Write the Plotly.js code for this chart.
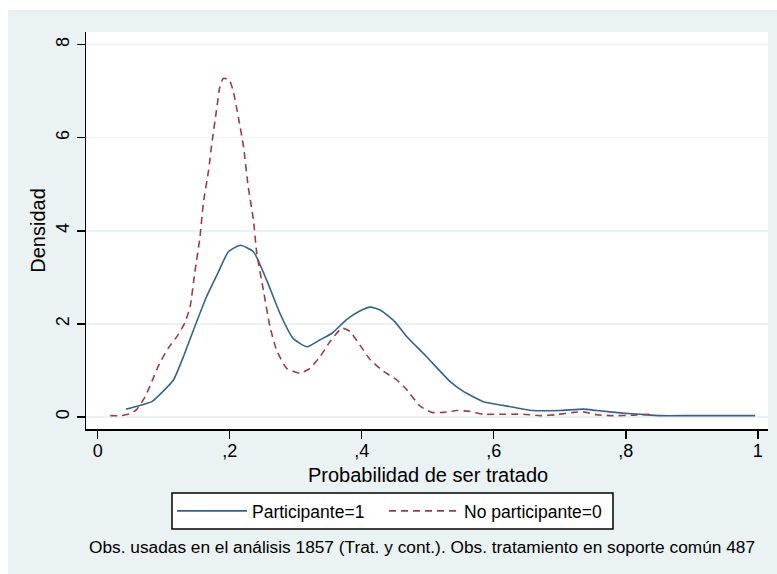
<!DOCTYPE html>
<html>
<head>
<meta charset="utf-8">
<script src="https://cdn.plot.ly/plotly-3.0.1.min.js"></script>
<style>
  html, body { margin: 0; padding: 0; background: #ffffff; width: 777px; height: 574px; overflow: hidden; }
  #chart { position: absolute; left: 8px; top: 10px; width: 769px; height: 564px; }
</style>
</head>
<body>
<div id="chart"></div>
<script>
// Kernel density: Participante=1
const partX = [0.043,0.054,0.082,0.099,0.115,0.130,0.147,0.165,0.183,0.198,0.216,0.236,0.256,0.276,0.296,0.317,0.337,0.355,0.377,0.395,0.413,0.428,0.450,0.468,0.498,0.519,0.534,0.554,0.584,0.610,0.630,0.658,0.700,0.736,0.756,0.796,0.822,0.852,0.900,0.950,0.996];
const partY = [0.17,0.21,0.33,0.55,0.80,1.30,1.94,2.59,3.12,3.55,3.69,3.55,2.94,2.23,1.69,1.51,1.66,1.80,2.09,2.26,2.36,2.30,2.05,1.73,1.30,0.98,0.76,0.55,0.33,0.26,0.21,0.14,0.14,0.17,0.14,0.085,0.06,0.03,0.03,0.03,0.03];

// Kernel density: No participante=0
const noPartX = [0.019,0.036,0.049,0.059,0.072,0.082,0.094,0.107,0.122,0.132,0.140,0.147,0.155,0.160,0.168,0.173,0.180,0.185,0.190,0.199,0.205,0.213,0.221,0.228,0.236,0.241,0.251,0.261,0.271,0.286,0.306,0.322,0.337,0.352,0.370,0.382,0.397,0.413,0.433,0.453,0.468,0.488,0.506,0.524,0.544,0.564,0.584,0.605,0.645,0.670,0.695,0.721,0.736,0.756,0.781,0.812,0.840];
const noPartY = [0.03,0.03,0.07,0.16,0.44,0.76,1.16,1.48,1.77,2.02,2.37,3.09,3.87,4.59,5.30,5.88,6.59,7.09,7.27,7.25,7.02,6.45,5.80,4.95,4.23,3.52,2.73,1.94,1.44,1.05,0.94,1.05,1.30,1.62,1.91,1.84,1.55,1.23,0.98,0.80,0.59,0.24,0.10,0.10,0.14,0.12,0.06,0.06,0.06,0.03,0.05,0.10,0.11,0.05,0.03,0.04,0.06];

const xTickVals = [0, 0.2, 0.4, 0.6, 0.8, 1];
const xTickText = ["0", ",2", ",4", ",6", ",8", "1"];
const yTickVals = [0, 2, 4, 6, 8];
const yTickText = ["0", "2", "4", "6", "8"];

const seriesNames = ["Participante=1", "No participante=0"];
const xTitle = "Probabilidad de ser tratado";
const yTitle = "Densidad";
const noteText = "Obs. usadas en el análisis 1857 (Trat. y cont.). Obs. tratamiento en soporte común 487";

const FONT = '"Liberation Sans", Arial, sans-serif';

const traces = [
  {
    x: partX, y: partY, type: 'scatter', mode: 'lines', name: seriesNames[0],
    legend: 'legend',
    line: { color: '#34638F', width: 1.6, shape: 'spline', smoothing: 0.5 }
  },
  {
    x: noPartX, y: noPartY, type: 'scatter', mode: 'lines', name: seriesNames[1],
    legend: 'legend2',
    line: { color: '#9E3C45', width: 1.6, dash: '7px,5px', shape: 'spline', smoothing: 0.5 }
  }
];

const legendCommon = {
  orientation: 'h',
  xanchor: 'left',
  y: -0.1612, yanchor: 'top',
  bgcolor: 'rgba(0,0,0,0)', borderwidth: 0,
  font: { size: 17.5, family: FONT, color: '#000000' },
  itemwidth: 70,
  valign: 'middle'
};

const layout = {
  width: 769, height: 564,
  paper_bgcolor: '#EAF2F3',
  plot_bgcolor: '#FFFFFF',
  margin: { l: 78, r: 9, t: 22, b: 145 },
  font: { family: FONT, color: '#000000', size: 18 },
  showlegend: true,
  xaxis: {
    range: [-0.0177, 1.0155],
    tickvals: xTickVals, ticktext: xTickText,
    showline: true, linecolor: '#000000', linewidth: 1.5,
    ticks: 'outside', ticklen: 8, tickwidth: 1.5, tickcolor: '#000000',
    ticklabelstandoff: -3,
    showgrid: false, zeroline: false,
    tickfont: { size: 18, family: FONT }
  },
  yaxis: {
    range: [-0.257, 8.27],
    tickvals: yTickVals, ticktext: yTickText,
    tickangle: -90,
    showline: true, linecolor: '#000000', linewidth: 1.5,
    ticks: 'outside', ticklen: 8, tickwidth: 1.5, tickcolor: '#000000',
    showgrid: true, gridcolor: '#EAF2F3', gridwidth: 1.5,
    zeroline: false,
    tickfont: { size: 18, family: FONT },
    title: { text: yTitle, font: { size: 20, family: FONT }, standoff: 2 }
  },
  legend: Object.assign({}, legendCommon, { x: 0.1261 }),
  legend2: Object.assign({}, legendCommon, { x: 0.437 }),
  shapes: [
    {
      type: 'rect', xref: 'paper', yref: 'paper',
      x0: 0.1261, x1: 0.7727, y0: -0.2519, y1: -0.1612,
      fillcolor: '#FFFFFF', line: { color: '#000000', width: 1.5 },
      layer: 'below'
    }
  ],
  annotations: [
    {
      text: xTitle, xref: 'paper', yref: 'paper',
      x: 0.5015, y: -0.1159, xanchor: 'center', yanchor: 'middle',
      showarrow: false, font: { size: 20, family: FONT, color: '#000000' }
    },
    {
      text: noteText, xref: 'paper', yref: 'paper',
      x: 0.4934, y: -0.297, xanchor: 'center', yanchor: 'middle',
      showarrow: false, font: { size: 17.3, family: FONT, color: '#000000' }
    }
  ]
};

Plotly.newPlot('chart', traces, layout, { displayModeBar: false, staticPlot: true });
</script>
</body>
</html>
